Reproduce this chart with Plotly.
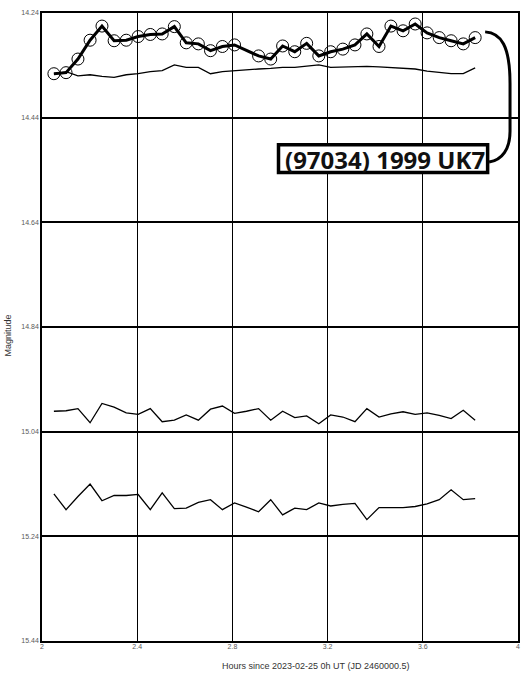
import plotly.graph_objects as go

# ---------------- data ----------------
hours = [2.050, 2.101, 2.151, 2.202, 2.252, 2.303, 2.354, 2.404, 2.455, 2.505,
         2.556, 2.606, 2.657, 2.708, 2.758, 2.809, 2.859, 2.910, 2.961, 3.011,
         3.062, 3.112, 3.163, 3.213, 3.264, 3.315, 3.365, 3.416, 3.466, 3.517,
         3.568, 3.618, 3.669, 3.719, 3.770, 3.820]

target_mag = [14.356, 14.354, 14.328, 14.292, 14.265, 14.293, 14.292, 14.285, 14.281, 14.280,
              14.266, 14.297, 14.299, 14.312, 14.304, 14.301, None, 14.322, 14.328, 14.303,
              14.314, 14.298, 14.322, 14.314, 14.309, 14.301, 14.280, 14.304, 14.265, 14.274,
              14.261, 14.278, 14.287, 14.293, 14.299, 14.287]

comp1_mag = [14.357, 14.352, 14.360, 14.358, 14.361, 14.363, 14.358, 14.356, 14.352, 14.350,
             14.339, 14.344, 14.344, 14.356, 14.352, 14.350, 14.348, 14.347, 14.346, 14.344,
             14.344, 14.342, 14.339, 14.344, 14.343, 14.342, 14.342, 14.343, 14.344, 14.345,
             14.347, 14.351, 14.353, 14.356, 14.356, 14.345]

comp2_mag = [15.001, 15.000, 14.996, 15.023, 14.986, 14.993, 15.004, 15.007, 14.996, 15.021,
             15.018, 15.008, 15.018, 14.997, 14.991, 15.005, 15.001, 14.996, 15.018, 15.001,
             15.013, 15.010, 15.025, 15.008, 15.012, 15.021, 14.996, 15.012, 15.006, 15.002,
             15.007, 15.004, 15.009, 15.015, 14.999, 15.018]

comp3_mag = [15.159, 15.189, 15.164, 15.140, 15.172, 15.162, 15.162, 15.160, 15.189, 15.157,
             15.187, 15.186, 15.175, 15.170, 15.189, 15.176, 15.184, 15.193, 15.170, 15.199,
             15.186, 15.189, 15.176, 15.182, 15.179, 15.177, 15.208, 15.185, 15.185, 15.185,
             15.183, 15.178, 15.170, 15.151, 15.170, 15.168]

x_ticks = [2, 2.4, 2.8, 3.2, 3.6, 4]
x_tick_labels = ["2", "2.4", "2.8", "3.2", "3.6", "4"]
y_ticks = [14.24, 14.44, 14.64, 14.84, 15.04, 15.24, 15.44]
y_tick_labels = ["14.24", "14.44", "14.64", "14.84", "15.04", "15.24", "15.44"]

title_text = "(97034) 1999 UK7"
x_title = "Hours since 2023-02-25 0h UT (JD 2460000.5)"
y_title = "Magnitude"

# ---------------- layout geometry ----------------
W, H = 529, 677
ML, MR, MT, MB = 42, 9, 9, 36
PW, PH = W - ML - MR, H - MT - MB


def px(xp):
    return (xp - ML) / PW


def py(yp):
    return 1 - (yp - MT) / PH


fig = go.Figure()

for ys in (comp3_mag, comp2_mag, comp1_mag):
    fig.add_trace(go.Scatter(x=hours, y=ys, mode="lines",
                             line=dict(color="black", width=1.3),
                             hoverinfo="skip", showlegend=False))

fig.add_trace(go.Scatter(x=hours, y=target_mag, mode="lines+markers",
                         connectgaps=True,
                         line=dict(color="black", width=3),
                         marker=dict(symbol="circle-open", size=12,
                                     color="black", line=dict(width=1)),
                         showlegend=False))

axis_font = dict(family="Liberation Sans, Arial, sans-serif", size=7, color="#5a5a5a")

fig.update_xaxes(range=[2, 4], tickvals=x_ticks, ticktext=x_tick_labels,
                 showgrid=True, gridcolor="black", gridwidth=1,
                 showline=True, linecolor="black", linewidth=1.5, mirror=True,
                 ticks="", zeroline=False, tickfont=axis_font, ticklabelstandoff=-2)
fig.update_yaxes(range=[15.44, 14.24], tickvals=y_ticks, ticktext=y_tick_labels,
                 showgrid=True, gridcolor="black", gridwidth=1.5,
                 showline=True, linecolor="black", linewidth=1.5, mirror=True,
                 ticks="", zeroline=False, tickfont=axis_font, ticklabelstandoff=0)


def P(x, y):
    return f"{px(x):.5f},{py(y):.5f}"


bracket = ("M " + P(487, 28) + " C " + P(503, 29) + " " + P(512, 42) + " " + P(512, 80)
           + " L " + P(512, 128) + " C " + P(512, 146) + " " + P(504, 157) + " " + P(491, 159))

fig.update_layout(
    width=W, height=H,
    margin=dict(l=ML, r=MR, t=MT, b=MB, pad=0),
    paper_bgcolor="white", plot_bgcolor="white",
    shapes=[
        dict(type="path", xref="paper", yref="paper", path=bracket,
             line=dict(color="black", width=3), layer="above"),
        dict(type="rect", xref="paper", yref="paper",
             x0=px(279.5), x1=px(489.5), y0=py(141.5), y1=py(169.5),
             line=dict(color="black", width=3.5), fillcolor="white", layer="above"),
    ],
    annotations=[
        dict(text='<span style="font-stretch:condensed"><b>' + title_text + "</b></span>",
             xref="paper", yref="paper",
             x=px(386), y=py(156), xanchor="center", yanchor="middle", showarrow=False,
             font=dict(family="Liberation Sans Narrow, Noto Sans Condensed, Noto Sans, sans-serif",
                       size=24, color="#111")),
        dict(text=x_title, xref="paper", yref="paper", x=px(316.5), y=py(666),
             xanchor="center", yanchor="middle", showarrow=False,
             font=dict(family="Liberation Sans, Arial, sans-serif", size=9, color="#333")),
        dict(text=y_title, xref="paper", yref="paper", x=px(7.5), y=py(334),
             xanchor="center", yanchor="middle", showarrow=False, textangle=-90,
             font=dict(family="Liberation Sans, Arial, sans-serif", size=9, color="#333")),
    ],
)

fig.write_html("out.html", config={"displayModeBar": False},
               post_script="document.body.style.margin='0';")
